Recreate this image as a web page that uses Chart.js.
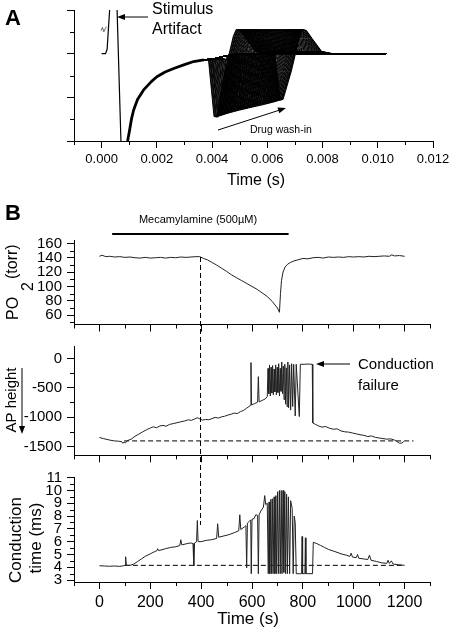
<!DOCTYPE html>
<html>
<head>
<meta charset="utf-8">
<script src="https://cdn.jsdelivr.net/npm/chart.js@4.4.1/dist/chart.umd.min.js"></script>
<style>
  html, body { margin: 0; padding: 0; background: #fff; overflow: hidden; }
  #wrap { position: relative; width: 450px; height: 629px; }
  #wrap canvas { position: absolute; left: 0; top: 0; }
</style>
</head>
<body>
<div id="wrap">
  <canvas id="chartA" width="450" height="629"></canvas>
  <canvas id="chartPO2" width="450" height="629"></canvas>
  <canvas id="chartAP" width="450" height="629"></canvas>
  <canvas id="chartCT" width="450" height="629"></canvas>
</div>
<script>
// ---- Panel A: compound action potentials during drug wash-in ----
// stimulus artifact
const artT = [0, 0.00014, 0.0002, 0.00024, 0.00029, 0.00042, 0.00056, 0.0007, 0.00082];
const artV = [2.0, 2.0, 2.1, 2.5, 3.0, 3.6, 3.0, 0, -1.0];
const wigT = [-0.00002, 0.00003, 0.00008, 0.00013, 0.00017];
const wigV = [2.53, 2.6, 2.5, 2.57, 2.62];
// shared recovery after the artifact
const riseT = [0.00094, 0.001, 0.00108, 0.00116, 0.0013, 0.00152, 0.0018, 0.002, 0.0023, 0.00261, 0.003, 0.00333, 0.0037, 0.00405, 0.0045, 0.005];
const riseV = [0, 0.2, 0.5, 0.71, 0.95, 1.17, 1.36, 1.47, 1.58, 1.66, 1.75, 1.82, 1.86, 1.88, 1.95, 2.0];
// onset of the negative phase of each sweep, and its trough
const onsets = [0.00387, 0.00389, 0.00392, 0.00394, 0.00396, 0.00399, 0.00401, 0.00403, 0.00406, 0.00408,
                0.00411, 0.00413, 0.00416, 0.00418, 0.00421, 0.00424, 0.00426, 0.00429, 0.00432, 0.00434,
                0.00437, 0.0044, 0.00443, 0.00446, 0.00448, 0.00451, 0.00455, 0.00458, 0.00461, 0.00464,
                0.00467, 0.00471, 0.00474, 0.00477, 0.0048, 0.00484, 0.00487, 0.0049, 0.00494, 0.00497,
                0.005, 0.00504, 0.00507, 0.00511, 0.00514, 0.00518, 0.00521, 0.00525, 0.00528, 0.00531,
                0.00535, 0.00538, 0.00542, 0.00545, 0.00549, 0.00552, 0.00556, 0.00559, 0.00562, 0.00566,
                0.00569, 0.00572, 0.00575, 0.00578, 0.00581, 0.00584, 0.00587, 0.0059, 0.00593, 0.00596,
                0.00598, 0.00601, 0.00604, 0.00606, 0.00609, 0.00611, 0.00614, 0.00616, 0.00619, 0.00621,
                0.00623, 0.00625, 0.00627];
const troughs = [0.56, 0.58, 0.55, 0.59, 0.57, 0.6, 0.58, 0.61, 0.59, 0.62,
                 0.6, 0.63, 0.61, 0.64, 0.62, 0.65, 0.63, 0.66, 0.64, 0.67,
                 0.65, 0.68, 0.66, 0.69, 0.67, 0.7, 0.68, 0.71, 0.69, 0.72,
                 0.7, 0.73, 0.71, 0.74, 0.72, 0.75, 0.73, 0.76, 0.74, 0.77,
                 0.75, 0.78, 0.76, 0.79, 0.77, 0.8, 0.78, 0.81, 0.79, 0.82,
                 0.8, 0.83, 0.81, 0.84, 0.82, 0.85, 0.83, 0.86, 0.84, 0.87,
                 0.85, 0.88, 0.86, 0.89, 0.87, 0.9, 0.88, 0.91, 0.89, 0.92,
                 0.9, 0.92, 0.91, 0.93, 0.92, 0.94, 0.93, 0.95, 0.94, 0.95,
                 0.94, 0.96, 0.95];
// shape after the trough (time after onset, value)
const troughDt = [0.0002, 0.0003];
const tailDt = [0.0006, 0.0009, 0.001, 0.00115, 0.00135, 0.0017, 0.0021];
const tailV = [1.6, 2.4, 2.55, 2.53, 2.35, 2.05, 2.0];
const sweepEnd = [0.0103, 2.0];

// ---- Panel B ----
const drugT = [50, 744];
const markT = 394, markPO2 = 141, markCT = 7.3;

const poT = [0, 10, 25, 40, 60, 80, 100, 120, 140, 160,
             180, 200, 220, 240, 260, 280, 300, 320, 340, 360,
             380, 394, 410, 425, 440, 460, 480, 500, 520, 540,
             560, 580, 600, 620, 640, 660, 680, 700, 708, 712,
             716, 722, 730, 740, 752, 765, 780, 800, 820, 840,
             860, 880, 900, 920, 940, 960, 980, 1000, 1020, 1040,
             1060, 1080, 1100, 1120, 1140, 1150, 1160, 1180, 1200];
const poV = [142, 143.5, 141.5, 142, 141, 141.5, 140.5, 141, 140, 139.5,
             140.5, 139.5, 140, 140.5, 139.5, 140.5, 140, 141, 140.5, 141,
             141.5, 141.5, 139, 137, 134, 130, 125.5, 121, 116, 112,
             108, 104, 100, 96, 91, 86, 79, 70, 64, 90,
             108, 120, 127, 131, 133.5, 135.5, 137, 139, 138.5, 140,
             140.5, 139.5, 141, 140.5, 141, 140.5, 141.5, 141, 141.5, 141,
             142, 141.5, 142, 142.5, 142, 144, 142.5, 143, 142];

const apT = [0, 15, 30, 45, 60, 75, 88, 92, 97, 102,
             110, 125, 140, 155, 170, 185, 200, 212, 225, 238,
             250, 262, 275, 290, 305, 320, 335, 350, 362, 375,
             385, 395, 405, 418, 430, 442, 455, 468, 480, 492,
             505, 518, 530, 542, 555, 567, 578, 588, 594, 596,
             598, 610, 622, 625, 628, 640, 652, 660, 663, 666,
             669, 672, 675, 678, 681, 684, 687, 690, 693, 696,
             699, 702, 705, 708, 711, 714, 717, 720, 723, 726,
             729, 732, 735, 738, 741, 744, 748, 752, 756, 760,
             764, 770, 774, 786, 790, 805, 820, 837, 839, 850,
             862, 875, 890, 905, 920, 935, 950, 965, 980, 995,
             1010, 1025, 1040, 1055, 1070, 1085, 1100, 1115, 1130, 1145,
             1160, 1170, 1180, 1190, 1197];
const apV = [-1346, -1365, -1380, -1395, -1405, -1410, -1418, -1445, -1425, -1440,
             -1400, -1375, -1325, -1290, -1250, -1215, -1185, -1165, -1180, -1150,
             -1140, -1155, -1125, -1110, -1095, -1080, -1065, -1045, -1055, -1030,
             -1010, -1030, -1050, -1040, -1045, -1025, -1005, -1015, -995, -985,
             -965, -950, -930, -940, -905, -885, -850, -820, -800, -70,
             -790, -770, -745, -310, -740, -715, -690, -650, -170, -600,
             -110, -640, -150, -590, -120, -620, -180, -570, -110, -620,
             -150, -580, -90, -640, -170, -560, -60, -600, -130, -700,
             -100, -780, -160, -820, -60, -840, -110, -880, -90, -820,
             -100, -980, -100, -990, -100, -100, -95, -100, -1100, -1125,
             -1150, -1170, -1160, -1190, -1205, -1200, -1235, -1250, -1255, -1270,
             -1285, -1300, -1310, -1330, -1320, -1345, -1355, -1365, -1375, -1370,
             -1390, -1415, -1445, -1440, -1415];
const apRefT = [97, 1235];
const apRefV = [-1405, -1405];

const ctT = [0, 20, 40, 60, 80, 96, 101, 103, 106, 120,
             135, 150, 165, 180, 200, 215, 226, 229, 233, 260,
             280, 300, 316, 320, 324, 345, 360, 368, 371, 374,
             382, 385, 388, 400, 420, 440, 461, 465, 469, 490,
             510, 530, 548, 552, 556, 570, 576, 579, 582, 590,
             595, 597, 600, 608, 615, 622, 625, 628, 635, 645,
             650, 654, 660, 664, 667, 670, 674, 677, 680, 683,
             687, 690, 694, 697, 701, 704, 708, 711, 715, 718,
             722, 725, 729, 732, 736, 739, 743, 748, 752, 758,
             762, 766, 770, 774, 786, 795, 797, 799, 808, 810,
             812, 838, 841, 855, 870, 885, 900, 915, 930, 950,
             970, 985, 990, 995, 1010, 1015, 1020, 1040, 1055, 1062,
             1068, 1090, 1110, 1130, 1135, 1140, 1148, 1155, 1175, 1200];
const ctV = [4.12, 4.1, 4.08, 4.1, 4.07, 4.12, 4.15, 4.82, 4.15, 4.15,
             4.25, 4.45, 4.65, 4.85, 5.05, 5.2, 5.3, 5.45, 5.3, 5.45,
             5.55, 5.6, 5.7, 6.15, 5.75, 5.85, 5.9, 5.85, 4.1, 5.9,
             6.0, 7.65, 6.0, 6.0, 6.1, 6.15, 6.25, 7.4, 6.35, 6.45,
             6.55, 6.7, 6.85, 8.1, 6.95, 7.15, 7.25, 3.95, 7.45, 7.6,
             7.7, 3.5, 7.75, 7.8, 8.1, 8.05, 3.5, 8.1, 8.4, 8.7,
             9.6, 8.9, 9.0, 3.5, 9.1, 3.5, 9.3, 3.5, 9.35, 3.5,
             9.5, 3.5, 9.6, 3.5, 9.9, 3.5, 10.0, 3.5, 10.0, 3.5,
             10.0, 3.6, 9.9, 3.5, 9.7, 3.5, 9.5, 3.5, 9.2, 8.6,
             3.5, 8.0, 7.5, 3.5, 3.5, 3.5, 6.4, 3.5, 3.5, 6.3,
             3.5, 3.5, 5.95, 5.85, 5.7, 5.55, 5.4, 5.3, 5.2, 5.05,
             4.95, 4.85, 5.1, 4.8, 4.75, 5.0, 4.7, 4.65, 4.6, 4.95,
             4.55, 4.45, 4.35, 4.3, 4.55, 4.3, 4.5, 4.25, 4.2, 4.15];
const ctRefT = [100, 1200];
const ctRefV = [4.15, 4.15];

// ---------------------------------------------------------------
const FONT = "'Liberation Sans', Arial, Helvetica, sans-serif";
Chart.defaults.font.family = FONT;
Chart.defaults.color = '#000';

const pts = (xs, ys) => xs.map((x, i) => ({x: x, y: ys[i]}));
const isMajor = (v, step) => Math.abs(v / step - Math.round(v / step)) < 1e-6;

function label(ctx, str, x, y, size, align, opt) {
  opt = opt || {};
  ctx.save();
  ctx.font = (opt.bold ? 'bold ' : '') + size + 'px ' + FONT;
  ctx.fillStyle = '#000';
  ctx.textAlign = align || 'left';
  ctx.textBaseline = 'alphabetic';
  ctx.translate(x, y);
  if (opt.rotate) ctx.rotate(-Math.PI / 2);
  ctx.fillText(str, 0, 0);
  ctx.restore();
}

function arrow(ctx, x0, y0, x1, y1, head) {
  const a = Math.atan2(y1 - y0, x1 - x0);
  const c = Math.cos(a), s = Math.sin(a), w = head * 0.38;
  ctx.save();
  ctx.strokeStyle = '#000';
  ctx.fillStyle = '#000';
  ctx.lineWidth = 1;
  ctx.beginPath();
  ctx.moveTo(x0, y0);
  ctx.lineTo(x1 - c * head * 0.8, y1 - s * head * 0.8);
  ctx.stroke();
  ctx.beginPath();
  ctx.moveTo(x1, y1);
  ctx.lineTo(x1 - head * c + w * s, y1 - head * s - w * c);
  ctx.lineTo(x1 - head * c - w * s, y1 - head * s + w * c);
  ctx.closePath();
  ctx.fill();
  ctx.restore();
}

// short minor ticks; major ticks are drawn by Chart.js itself
const minorTicks = {
  id: 'minorTicks',
  afterDraw(chart, args, opts) {
    const ctx = chart.ctx;
    ctx.save();
    ctx.strokeStyle = '#000';
    ctx.lineWidth = 1;
    ['x', 'y'].forEach(id => {
      const s = chart.scales[id];
      s.ticks.forEach(t => {
        if (isMajor(t.value, opts[id])) return;
        const p = Math.round(s.getPixelForValue(t.value)) + 0.5;
        ctx.beginPath();
        if (id === 'x') { ctx.moveTo(p, s.top); ctx.lineTo(p, s.top + 4); }
        else { ctx.moveTo(s.right, p); ctx.lineTo(s.right - 4, p); }
        ctx.stroke();
      });
    });
    ctx.restore();
  }
};

function makeScales(o) {
  const tickCol = step => c => (c.tick && isMajor(c.tick.value, step)) ? '#000' : 'rgba(0,0,0,0)';
  return {
    x: {
      type: 'linear', min: o.xMin, max: o.xMax,
      grid: {drawOnChartArea: false, drawTicks: true, tickLength: 7, tickWidth: 1, tickColor: tickCol(o.xMajor)},
      border: {display: true, color: '#000', width: 1},
      ticks: {stepSize: o.xStep, autoSkip: false, maxRotation: 0, minRotation: 0, maxTicksLimit: 1000,
              padding: 4, color: '#000', font: {size: o.xFont},
              callback: v => (o.xLabels && isMajor(v, o.xMajor)) ? o.xFmt(v) : ''},
      afterFit: s => { s.height = 30; s.paddingLeft = 0; s.paddingRight = 0; }
    },
    y: {
      type: 'linear', min: o.yMin, max: o.yMax,
      grid: {drawOnChartArea: false, drawTicks: true, tickLength: 7, tickWidth: 1, tickColor: tickCol(o.yMajor)},
      border: {display: true, color: '#000', width: 1},
      ticks: {stepSize: o.yStep, autoSkip: false, includeBounds: false, maxTicksLimit: 1000,
              padding: 5, color: '#000', font: {size: 15},
              callback: v => (o.yLabels && isMajor(v, o.yMajor)) ? String(v) : ''},
      afterFit: s => { s.width = 74; s.paddingTop = 0; s.paddingBottom = 0; }
    }
  };
}

function baseOptions(scales, pad, majors) {
  return {
    responsive: false, animation: false, devicePixelRatio: 1, events: [],
    layout: {padding: pad},
    elements: {point: {radius: 0}, line: {tension: 0, borderJoinStyle: 'round'}},
    plugins: {legend: {display: false}, tooltip: {enabled: false}, minorTicks: majors},
    scales: scales
  };
}

const line = (data, extra) => Object.assign({data: data, borderColor: '#000', borderWidth: 1, fill: false, pointRadius: 0}, extra || {});

// ---- build sweeps for panel A ----
const risePts = pts(riseT, riseV);
const sweeps = onsets.map((t0, i) => {
  const p = risePts.filter(q => q.x < t0);
  p.push({x: t0, y: p[p.length - 1].y});
  troughDt.forEach(d => p.push({x: t0 + d, y: troughs[i]}));
  tailDt.forEach((d, k) => p.push({x: t0 + d, y: tailV[k]}));
  p.push({x: sweepEnd[0], y: sweepEnd[1]});
  return line(p, {borderWidth: 1});
});

new Chart(document.getElementById('chartA'), {
  type: 'line',
  data: {datasets: [
    line(pts(artT, artV), {borderWidth: 1.2}),
    line(pts(wigT, wigV), {borderWidth: 0.8, borderColor: '#444'}),
    line(risePts.filter(q => q.x <= 0.0037), {borderWidth: 2.8})
  ].concat(sweeps)},
  options: baseOptions(makeScales({
    xMin: -0.001, xMax: 0.012, xStep: 0.001, xMajor: 0.002, xFont: 13, xLabels: true, xFmt: v => v.toFixed(3),
    yMin: 0, yMax: 3, yStep: 0.5, yMajor: 1, yLabels: false
  }), {top: 10, right: 17, left: 0, bottom: 629 - 141 - 30}, {x: 0.002, y: 1}),
  plugins: [minorTicks, {
    id: 'notesA',
    afterDraw(chart) {
      const c = chart.ctx;
      label(c, 'A', 5, 25, 22, 'left', {bold: true});
      label(c, 'Stimulus', 152, 13.5, 16);
      label(c, 'Artifact', 152, 33.5, 16);
      arrow(c, 148, 17, 117, 17, 8);
      label(c, 'Drug wash-in', 250, 133, 10.5);
      arrow(c, 218, 130, 286, 108, 8);
      label(c, 'Time (s)', 256, 185, 16, 'center');
    }
  }]
});

const bScales = (yMin, yMax, yStep, yMajor, xLabels) => makeScales({
  xMin: -100, xMax: 1300, xStep: 100, xMajor: 200, xFont: 16, xLabels: xLabels, xFmt: v => String(v),
  yMin: yMin, yMax: yMax, yStep: yStep, yMajor: yMajor, yLabels: true
});

const chartPO2 = new Chart(document.getElementById('chartPO2'), {
  type: 'line',
  data: {datasets: [line(pts(poT, poV), {borderColor: '#222'})]},
  options: baseOptions(bScales(47, 164, 10, 20, false),
    {top: 240.5, right: 20, left: 0, bottom: 629 - 324.5 - 30}, {x: 200, y: 20}),
  plugins: [minorTicks, {
    id: 'notesPO2',
    afterDraw(chart) {
      const c = chart.ctx, xs = chart.scales.x;
      label(c, 'B', 5, 220, 22, 'left', {bold: true});
      label(c, 'Mecamylamine (500\u00b5M)', 198, 223, 11, 'center');
      c.save();
      c.strokeStyle = '#000';
      c.lineWidth = 2;
      c.beginPath();
      c.moveTo(xs.getPixelForValue(drugT[0]), 234);
      c.lineTo(xs.getPixelForValue(drugT[1]), 234);
      c.stroke();
      c.restore();
      label(c, 'PO', 18, 320, 16, 'left', {rotate: true});
      label(c, '2', 33, 291, 16, 'left', {rotate: true});
      label(c, '(torr)', 17, 279, 16, 'left', {rotate: true});
    }
  }]
});

new Chart(document.getElementById('chartAP'), {
  type: 'line',
  data: {datasets: [
    line(pts(apT, apV), {borderColor: '#222'}),
    line(pts(apRefT, apRefV), {borderDash: [5, 3]})
  ]},
  options: baseOptions(bScales(-1650, 200, 250, 500, false),
    {top: 346.7, right: 20, left: 0, bottom: 629 - 455.3 - 30}, {x: 200, y: 500}),
  plugins: [minorTicks, {
    id: 'notesAP',
    afterDraw(chart) {
      const c = chart.ctx;
      label(c, 'AP height', 16, 400, 15, 'center', {rotate: true});
      arrow(c, 22, 368, 22, 434, 8);
      label(c, 'Conduction', 358, 369, 15);
      label(c, 'failure', 358, 390, 15);
      arrow(c, 350, 364, 316, 364, 8);
    }
  }]
});

new Chart(document.getElementById('chartCT'), {
  type: 'line',
  data: {datasets: [
    line(pts(ctT, ctV), {borderColor: '#222'}),
    line(pts(ctRefT, ctRefV), {borderDash: [5, 3]})
  ]},
  options: baseOptions(bScales(2.85, 11.05, 0.5, 1, true),
    {top: 477, right: 20, left: 0, bottom: 629 - 582 - 30}, {x: 200, y: 1}),
  plugins: [minorTicks, {
    id: 'notesCT',
    afterDraw(chart) {
      const c = chart.ctx;
      label(c, 'Conduction', 21, 540, 17, 'center', {rotate: true});
      label(c, 'time (ms)', 41, 538, 17, 'center', {rotate: true});
      label(c, 'Time (s)', 248, 624, 17, 'center');
      // drug-onset marker running through all three panels
      const x = Math.round(chart.scales.x.getPixelForValue(markT)) + 0.5;
      c.save();
      c.strokeStyle = '#000';
      c.lineWidth = 1;
      c.setLineDash([5, 3]);
      c.beginPath();
      c.moveTo(x, chartPO2.scales.y.getPixelForValue(markPO2));
      c.lineTo(x, chart.scales.y.getPixelForValue(markCT));
      c.stroke();
      c.restore();
    }
  }]
});
</script>
</body>
</html>
